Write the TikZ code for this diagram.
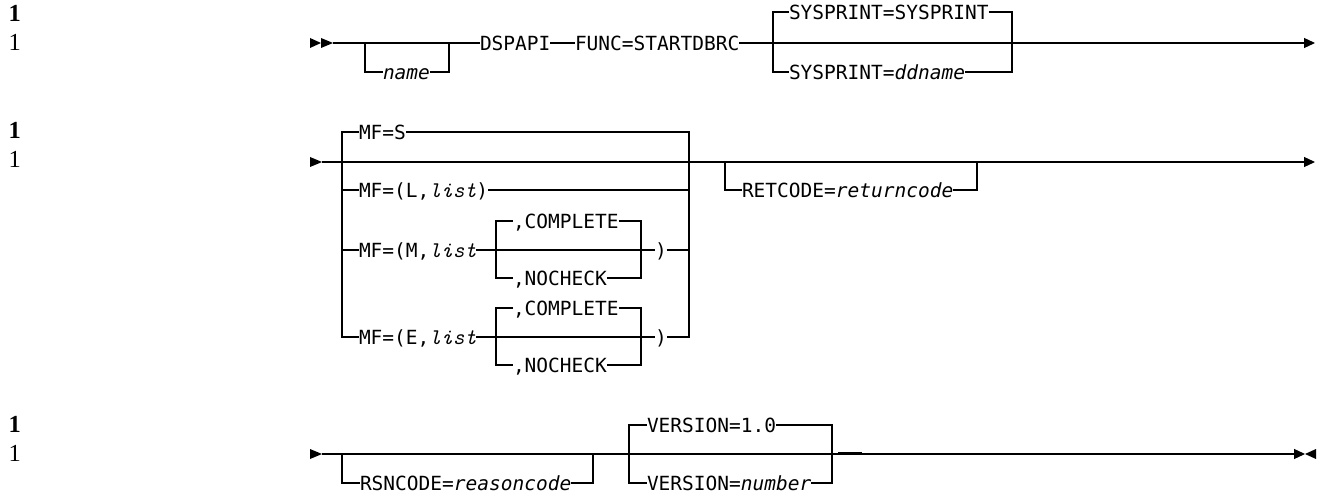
\documentclass[tikz,border=0pt]{standalone}
\usepackage{fontspec}
\newfontfamily\synfam{DejaVu Sans Mono}
\newfontfamily\labfam{Liberation Serif}
\usetikzlibrary{arrows.meta}
\newcommand{\sy}{\synfam\fontsize{19.5pt}{20pt}\selectfont}
\newcommand{\lst}{{\ttfamily\itshape\fontsize{22.4pt}{23pt}\selectfont list}}
\begin{document}
\begin{tikzpicture}[x=1pt,y=-1pt,line width=1.2pt,
  syn/.style={inner sep=0pt,outer sep=0pt,anchor=west,text height=14.2pt,text depth=0pt,font=\sy},
  lab/.style={inner sep=0pt,anchor=base west,font=\labfam\fontsize{24.5pt}{25pt}\selectfont},
  endtip/.style={-{Triangle[length=11pt,width=10pt]}}]
\useasboundingbox (0,0) rectangle (1322,494);
% left labels
\node[lab,font=\labfam\bfseries\fontsize{24.5pt}{25pt}\selectfont] (l1b) at (8,22) {1};
\node[lab] (l1n) at (8,51) {1};
\node[lab,font=\labfam\bfseries\fontsize{24.5pt}{25pt}\selectfont] (l2b) at (8,139) {1};
\node[lab] (l2n) at (8,168) {1};
\node[lab,font=\labfam\bfseries\fontsize{24.5pt}{25pt}\selectfont] (l3b) at (8,432) {1};
\node[lab] (l3n) at (8,461) {1};
% ---------- row 1 ----------
\fill (310,38) -- (321,43) -- (310,48) -- cycle;
\fill (321,38) -- (333,43) -- (321,48) -- cycle;
\coordinate (r1s) at (333,43);
\coordinate (r1e) at (1315,43);
\coordinate (nb1) at (365,43);
\coordinate (nb2) at (449,43);
\coordinate (sb1) at (773,43);
\coordinate (sb2) at (1012,43);
\node[syn,font=\sy\itshape] (name) at (383,72) {name};
\node[syn] (dspapi) at (480,43) {DSPAPI};
\node[syn] (func) at (575,43) {FUNC=STARTDBRC};
\node[syn] (sys1) at (789,12) {SYSPRINT=SYSPRINT};
\node[syn] (sys2) at (789,72) {SYSPRINT=\textit{ddname}};
\draw (r1s) -- (dspapi.west);
\draw (nb1) |- (name.west);
\draw (name.east) -| (nb2);
\draw (dspapi.east) -- (func.west);
\draw[endtip] (func.east) -- (r1e);
\draw (sys1.west) -| (sb1 |- sys2.west) -- (sys2.west);
\draw (sys1.east) -| (sb2 |- sys2.east) -- (sys2.east);
% ---------- row 2 ----------
\fill (310,157) -- (322,162) -- (310,167) -- cycle;
\coordinate (r2s) at (322,162);
\coordinate (r2e) at (1315,162);
\coordinate (bl) at (342,162);
\coordinate (br) at (689,162);
\coordinate (ibl) at (496,250);
\coordinate (ibr) at (641,250);
\coordinate (rb1) at (725,162);
\coordinate (rb2) at (977,162);
\node[syn] (mfs) at (359,132) {MF=S};
\node[syn] (mfl) at (359,190) {MF=(L,\lst)};
\node[syn] (mfm) at (359,250) {MF=(M,\lst};
\node[syn] (mfe) at (359,337) {MF=(E,\lst};
\node[syn] (cm) at (513,221) {,COMPLETE};
\node[syn] (nm) at (513,278) {,NOCHECK};
\node[syn] (pm) at (655,250) {)};
\node[syn] (ce) at (513,308) {,COMPLETE};
\node[syn] (ne) at (513,365) {,NOCHECK};
\node[syn] (pe) at (655,337) {)};
\node[syn] (ret) at (742,190) {RETCODE=\textit{returncode}};
\draw[endtip] (r2s) -- (r2e);
\draw (mfs.west) -| (bl |- mfe.west) -- (mfe.west);
\draw (bl |- mfl.west) -- (mfl.west);
\draw (bl |- mfm.west) -- (mfm.west);
\draw (mfs.east) -| (br |- pe.east) -- (pe.east);
\draw (mfl.east) -- (br |- mfl.east);
\draw (pm.east) -- (br |- pm.east);
\draw (mfm.east) -- (pm.west);
\draw (cm.west) -| (ibl |- nm.west) -- (nm.west);
\draw (cm.east) -| (ibr |- nm.east) -- (nm.east);
\draw (mfe.east) -- (pe.west);
\draw (ce.west) -| (ibl |- ne.west) -- (ne.west);
\draw (ce.east) -| (ibr |- ne.east) -- (ne.east);
\draw (rb1) |- (ret.west);
\draw (ret.east) -| (rb2);
% ---------- row 3 ----------
\fill (310,449) -- (322,454) -- (310,459) -- cycle;
\coordinate (r3s) at (322,454);
\coordinate (r3e) at (1305,454);
\coordinate (qb1) at (342,454);
\coordinate (qb2) at (593,454);
\coordinate (vb1) at (629,454);
\coordinate (vb2) at (832,454);
\node[syn] (rsn) at (360,483) {RSNCODE=\textit{reasoncode}};
\node[syn] (v1) at (647,425) {VERSION=1.0};
\node[syn] (v2) at (647,483) {VERSION=\textit{number}};
\draw[endtip] (r3s) -- (r3e);
\fill (1316,449) -- (r3e) -- (1316,459) -- cycle;
\draw (qb1) |- (rsn.west);
\draw (rsn.east) -| (qb2);
\draw (v1.west) -| (vb1 |- v2.west) -- (v2.west);
\draw (v1.east) -| (vb2 |- v2.east) -- (v2.east);
\draw[line width=1.6pt] (838,452.6) -- (862,452.6);
\end{tikzpicture}
\end{document}
